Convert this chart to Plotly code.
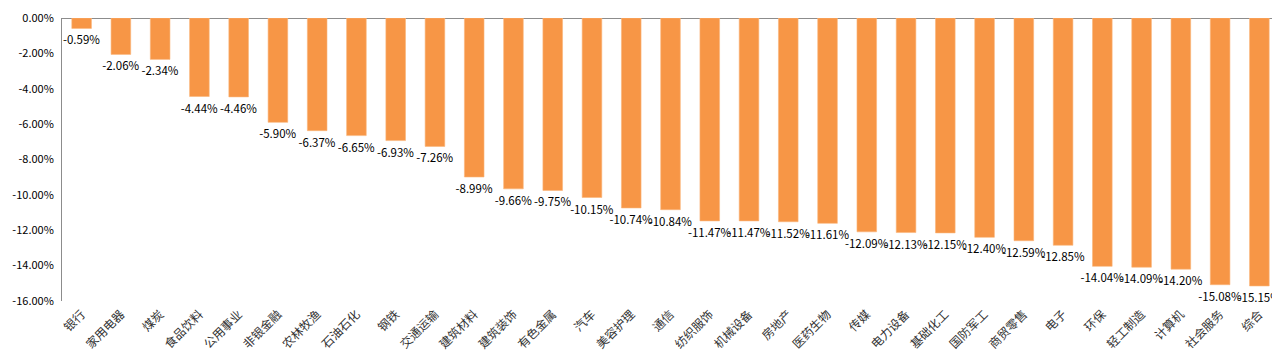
import plotly.graph_objects as go

categories = ["银行", "家用电器", "煤炭", "食品饮料", "公用事业", "非银金融", "农林牧渔", "石油石化",
              "钢铁", "交通运输", "建筑材料", "建筑装饰", "有色金属", "汽车", "美容护理", "通信",
              "纺织服饰", "机械设备", "房地产", "医药生物", "传媒", "电力设备", "基础化工", "国防军工",
              "商贸零售", "电子", "环保", "轻工制造", "计算机", "社会服务", "综合"]
values = [-0.59, -2.06, -2.34, -4.44, -4.46, -5.90, -6.37, -6.65, -6.93, -7.26, -8.99, -9.66,
          -9.75, -10.15, -10.74, -10.84, -11.47, -11.47, -11.52, -11.61, -12.09, -12.13, -12.15,
          -12.40, -12.59, -12.85, -14.04, -14.09, -14.20, -15.08, -15.15]
y_ticks = [0, -2, -4, -6, -8, -10, -12, -14, -16]

fig = go.Figure(go.Bar(
    x=categories, y=values,
    marker=dict(color="#F79646", line=dict(color="#FAB57A", width=0.6)),
    width=0.5,
    text=[f"{v:.2f}%" for v in values],
    textposition="outside",
    constraintext="none",
    cliponaxis=False,
    textfont=dict(size=11.5, color="#000000", family="Noto Sans CJK SC"),
))

fig.update_layout(
    width=1280, height=360,
    margin=dict(l=54, r=9, t=10, b=67),
    plot_bgcolor="white", paper_bgcolor="white",
    showlegend=False,
    font=dict(family="Noto Sans CJK SC", size=11, color="#000000"),
)
fig.update_xaxes(tickangle=-45, showline=False, showgrid=False, ticks="", automargin=False,
                 tickfont=dict(size=12, color="#333333"), ticklabelstandoff=3)
fig.update_yaxes(range=[-16, 0], tickvals=y_ticks,
                 ticktext=[f"{t:.2f}%" for t in y_ticks], automargin=False,
                 showgrid=False, showline=True, linecolor="#8c8c8c", linewidth=1,
                 zeroline=True, zerolinecolor="#8c8c8c", zerolinewidth=1,
                 ticks="", ticklabelstandoff=5, tickfont=dict(size=11, color="#000000"))

fig.write_html("out.html")
